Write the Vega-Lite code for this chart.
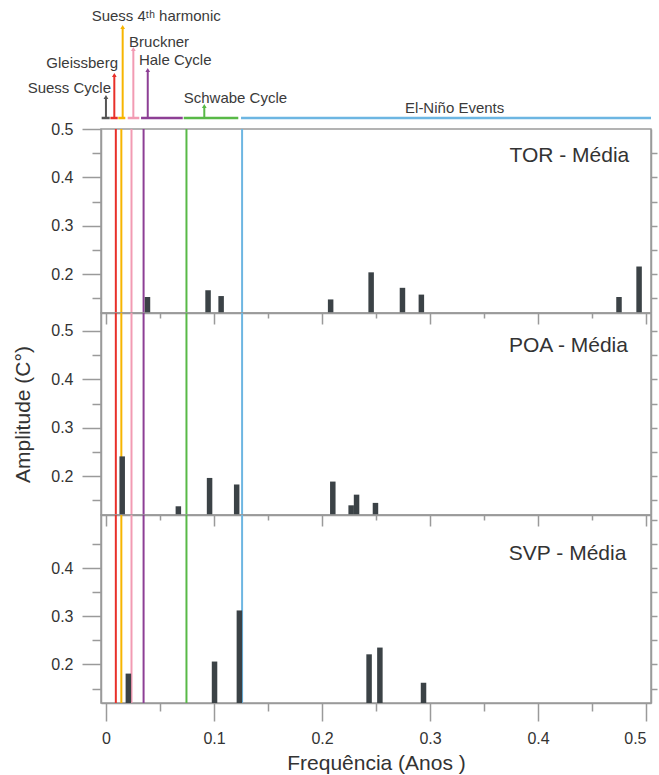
{
  "$schema": "https://vega.github.io/schema/vega-lite/v6.json",
  "autosize": {"type": "pad"},
  "padding": {"left": 12, "top": 5, "right": 0, "bottom": 0},
  "spacing": 0,
  "bounds": "flush",
  "background": "white",
  "config": {
    "font": "Liberation Sans",
    "view": {"stroke": "#9a9a9a", "strokeWidth": 1.5},
    "axis": {
      "grid": false,
      "domainColor": "#9a9a9a",
      "domainWidth": 1.5,
      "tickColor": "#9a9a9a",
      "tickWidth": 1.5,
      "labelColor": "#333333",
      "labelFontSize": 16,
      "labelFont": "Liberation Sans",
      "titleFont": "Liberation Sans",
      "titleColor": "#333333",
      "titleFontWeight": "normal",
      "titleFontSize": 21
    }
  },
  "datasets": {
    "bars": [
      {"panel": "TOR", "freq": 0.0384, "amp": 0.153},
      {"panel": "TOR", "freq": 0.0945, "amp": 0.167},
      {"panel": "TOR", "freq": 0.1066, "amp": 0.155},
      {"panel": "TOR", "freq": 0.208, "amp": 0.148},
      {"panel": "TOR", "freq": 0.2455, "amp": 0.204},
      {"panel": "TOR", "freq": 0.2745, "amp": 0.172},
      {"panel": "TOR", "freq": 0.292, "amp": 0.158},
      {"panel": "TOR", "freq": 0.475, "amp": 0.153},
      {"panel": "TOR", "freq": 0.4936, "amp": 0.216},
      {"panel": "POA", "freq": 0.015, "amp": 0.241},
      {"panel": "POA", "freq": 0.067, "amp": 0.138},
      {"panel": "POA", "freq": 0.0959, "amp": 0.1965},
      {"panel": "POA", "freq": 0.121, "amp": 0.183},
      {"panel": "POA", "freq": 0.21, "amp": 0.189},
      {"panel": "POA", "freq": 0.227, "amp": 0.14},
      {"panel": "POA", "freq": 0.232, "amp": 0.162},
      {"panel": "POA", "freq": 0.2495, "amp": 0.145},
      {"panel": "SVP", "freq": 0.0207, "amp": 0.181},
      {"panel": "SVP", "freq": 0.1005, "amp": 0.206},
      {"panel": "SVP", "freq": 0.1235, "amp": 0.312},
      {"panel": "SVP", "freq": 0.2436, "amp": 0.221},
      {"panel": "SVP", "freq": 0.2536, "amp": 0.235},
      {"panel": "SVP", "freq": 0.294, "amp": 0.162}
    ],
    "lines": [
      {"cycle": "Gleissberg", "freq": 0.0091},
      {"cycle": "Suess 4th harmonic", "freq": 0.0142},
      {"cycle": "Bruckner", "freq": 0.0236},
      {"cycle": "Hale Cycle", "freq": 0.0348},
      {"cycle": "Schwabe Cycle", "freq": 0.0745},
      {"cycle": "El-Niño Events", "freq": 0.126}
    ],
    "stems": [
      {"cycle": "Suess Cycle", "freq": 0.0045, "top": 32},
      {"cycle": "Gleissberg", "freq": 0.0121, "top": 54},
      {"cycle": "Suess 4th harmonic", "freq": 0.0197, "top": 102},
      {"cycle": "Bruckner", "freq": 0.0294, "top": 80},
      {"cycle": "Hale Cycle", "freq": 0.0425, "top": 59},
      {"cycle": "Schwabe Cycle", "freq": 0.0939, "top": 23}
    ],
    "segments": [
      {"cycle": "Suess Cycle", "start": 0.0006, "end": 0.0079},
      {"cycle": "Gleissberg", "start": 0.0085, "end": 0.0152},
      {"cycle": "Suess 4th harmonic", "start": 0.0157, "end": 0.0221},
      {"cycle": "Bruckner", "start": 0.0243, "end": 0.0348},
      {"cycle": "Hale Cycle", "start": 0.0364, "end": 0.0743},
      {"cycle": "Schwabe Cycle", "start": 0.0752, "end": 0.1248},
      {"cycle": "El-Niño Events", "start": 0.1273, "end": 0.5}
    ],
    "labels": [
      {"label": "Suess Cycle", "side": "right", "freq": 0.0091, "level": 41},
      {"label": "Gleissberg", "side": "right", "freq": 0.0155, "level": 66},
      {"label": "Suess 4ᵗʰ harmonic", "side": "left", "freq": -0.0085, "level": 113},
      {"label": "Bruckner", "side": "left", "freq": 0.0255, "level": 87},
      {"label": "Hale Cycle", "side": "left", "freq": 0.0345, "level": 69},
      {"label": "Schwabe Cycle", "side": "left", "freq": 0.0752, "level": 31.3},
      {"label": "El-Niño Events", "side": "left", "freq": 0.2764, "level": 21.3}
    ]
  },
  "vconcat": [
    {
      "width": 550,
      "height": 124,
      "view": {"stroke": null},
      "layer": [
        {
          "data": {"name": "segments"},
          "mark": {"type": "rule", "strokeWidth": 2.5},
          "encoding": {
            "x": {"field": "start", "type": "quantitative", "scale": {"domain": [0, 0.5], "nice": false}, "axis": null},
            "x2": {"field": "end"},
            "y": {"datum": 11, "type": "quantitative", "scale": {"domain": [0, 124], "nice": false, "zero": true}, "axis": null},
            "color": {"field": "cycle", "type": "nominal", "legend": null,
              "scale": {"domain": ["Suess Cycle", "Gleissberg", "Suess 4th harmonic", "Bruckner", "Hale Cycle", "Schwabe Cycle", "El-Niño Events"],
                        "range": ["#555555", "#e8302a", "#f7b500", "#f29bb3", "#8d3f95", "#58b947", "#6db6e2"]}}
          }
        },
        {
          "data": {"name": "stems"},
          "mark": {"type": "rule", "strokeWidth": 2},
          "encoding": {
            "x": {"field": "freq", "type": "quantitative"},
            "y": {"field": "top", "type": "quantitative"},
            "y2": {"datum": 11},
            "color": {"field": "cycle", "type": "nominal", "legend": null}
          }
        },
        {
          "data": {"name": "stems"},
          "mark": {"type": "point", "shape": "triangle-up", "filled": true, "size": 22, "opacity": 1},
          "encoding": {
            "x": {"field": "freq", "type": "quantitative"},
            "y": {"field": "top", "type": "quantitative"},
            "color": {"field": "cycle", "type": "nominal", "legend": null}
          }
        },
        {
          "data": {"name": "labels"},
          "transform": [{"filter": "datum.side === 'right'"}],
          "mark": {"type": "text", "align": "right", "baseline": "middle", "fontSize": 15, "color": "#3a3a3a"},
          "encoding": {
            "x": {"field": "freq", "type": "quantitative"},
            "y": {"field": "level", "type": "quantitative"},
            "text": {"field": "label"}
          }
        },
        {
          "data": {"name": "labels"},
          "transform": [{"filter": "datum.side === 'left'"}],
          "mark": {"type": "text", "align": "left", "baseline": "middle", "fontSize": 15, "color": "#3a3a3a"},
          "encoding": {
            "x": {"field": "freq", "type": "quantitative"},
            "y": {"field": "level", "type": "quantitative"},
            "text": {"field": "label"}
          }
        }
      ]
    },
    {
      "width": 550,
      "height": 184,
      "resolve": {"axis": {"y": "independent"}},
      "layer": [
        {
          "data": {"name": "lines"},
          "mark": {"type": "rule", "strokeWidth": 2},
          "encoding": {
            "x": {"field": "freq", "type": "quantitative", "scale": {"domain": [0, 0.5], "nice": false},
              "axis": {"values": [0, 0.05, 0.1, 0.15, 0.2, 0.25, 0.3, 0.35, 0.4, 0.45, 0.5], "labels": false, "title": null,
                "tickSize": {"condition": {"test": "abs(datum.value*10-round(datum.value*10))<0.001", "value": 11}, "value": 5}}},
            "color": {"field": "cycle", "type": "nominal", "legend": null,
              "scale": {"domain": ["Suess Cycle", "Gleissberg", "Suess 4th harmonic", "Bruckner", "Hale Cycle", "Schwabe Cycle", "El-Niño Events"],
                        "range": ["#555555", "#e8302a", "#f7b500", "#f29bb3", "#8d3f95", "#58b947", "#6db6e2"]}}
          }
        },
        {
          "data": {"name": "bars"},
          "transform": [{"filter": "datum.panel === 'TOR'"}],
          "mark": {"type": "bar", "width": 5.5, "color": "#3b4246"},
          "encoding": {
            "x": {"field": "freq", "type": "quantitative"},
            "y": {"field": "amp", "type": "quantitative", "scale": {"domain": [0.12, 0.5], "nice": false, "zero": false},
              "axis": {"values": [0.15, 0.2, 0.25, 0.3, 0.35, 0.4, 0.45, 0.5], "title": null, "labelPadding": 9,
                "labelExpr": "abs(datum.value*10-round(datum.value*10))<0.001 ? format(datum.value, '.1f') : ''",
                "tickSize": {"condition": {"test": "abs(datum.value*10-round(datum.value*10))<0.001", "value": 19}, "value": 9}}},
            "y2": {"datum": 0.12}
          }
        },
        {
          "data": {"values": [{"label": "TOR - Média"}]},
          "mark": {"type": "text", "align": "right", "baseline": "middle", "fontSize": 21, "color": "#333333"},
          "encoding": {
            "x": {"datum": 0.4845, "type": "quantitative"},
            "y": {"datum": 0.444, "type": "quantitative",
              "axis": {"orient": "right", "values": [0.15, 0.2, 0.25, 0.3, 0.35, 0.4, 0.45], "labels": false, "title": null, "tickSize": 6}},
            "text": {"field": "label"}
          }
        }
      ]
    },
    {
      "width": 550,
      "height": 202,
      "resolve": {"axis": {"y": "independent"}},
      "layer": [
        {
          "data": {"name": "lines"},
          "mark": {"type": "rule", "strokeWidth": 2},
          "encoding": {
            "x": {"field": "freq", "type": "quantitative", "scale": {"domain": [0, 0.5], "nice": false},
              "axis": {"values": [0, 0.05, 0.1, 0.15, 0.2, 0.25, 0.3, 0.35, 0.4, 0.45, 0.5], "labels": false, "title": null,
                "tickSize": {"condition": {"test": "abs(datum.value*10-round(datum.value*10))<0.001", "value": 11}, "value": 5}}},
            "color": {"field": "cycle", "type": "nominal", "legend": null,
              "scale": {"domain": ["Suess Cycle", "Gleissberg", "Suess 4th harmonic", "Bruckner", "Hale Cycle", "Schwabe Cycle", "El-Niño Events"],
                        "range": ["#555555", "#e8302a", "#f7b500", "#f29bb3", "#8d3f95", "#58b947", "#6db6e2"]}}
          }
        },
        {
          "data": {"name": "bars"},
          "transform": [{"filter": "datum.panel === 'POA'"}],
          "mark": {"type": "bar", "width": 5.5, "color": "#3b4246"},
          "encoding": {
            "x": {"field": "freq", "type": "quantitative"},
            "y": {"field": "amp", "type": "quantitative", "scale": {"domain": [0.12, 0.537], "nice": false, "zero": false},
              "axis": {"values": [0.15, 0.2, 0.25, 0.3, 0.35, 0.4, 0.45, 0.5], "title": "Amplitude (C°)", "titlePadding": 17, "labelPadding": 9,
                "labelExpr": "abs(datum.value*10-round(datum.value*10))<0.001 ? format(datum.value, '.1f') : ''",
                "tickSize": {"condition": {"test": "abs(datum.value*10-round(datum.value*10))<0.001", "value": 19}, "value": 9}}},
            "y2": {"datum": 0.12}
          }
        },
        {
          "data": {"values": [{"label": "POA - Média"}]},
          "mark": {"type": "text", "align": "right", "baseline": "middle", "fontSize": 21, "color": "#333333"},
          "encoding": {
            "x": {"datum": 0.4833, "type": "quantitative"},
            "y": {"datum": 0.469, "type": "quantitative",
              "axis": {"orient": "right", "values": [0.15, 0.2, 0.25, 0.3, 0.35, 0.4, 0.45, 0.5], "labels": false, "title": null, "tickSize": 6}},
            "text": {"field": "label"}
          }
        }
      ]
    },
    {
      "width": 550,
      "height": 188,
      "resolve": {"axis": {"y": "independent"}},
      "layer": [
        {
          "data": {"name": "lines"},
          "mark": {"type": "rule", "strokeWidth": 2},
          "encoding": {
            "x": {"field": "freq", "type": "quantitative", "scale": {"domain": [0, 0.5], "nice": false},
              "axis": {"values": [0, 0.05, 0.1, 0.15, 0.2, 0.25, 0.3, 0.35, 0.4, 0.45, 0.5], "title": "Frequência (Anos )", "titlePadding": 6, "labelPadding": 9,
                "labelExpr": "abs(datum.value*10-round(datum.value*10))<0.001 ? (datum.value == 0 ? '0' : format(datum.value, '.1f')) : ''",
                "labelAlign": {"condition": {"test": "datum.value > 0.49", "value": "right"}, "value": "center"},
                "tickSize": {"condition": {"test": "abs(datum.value*10-round(datum.value*10))<0.001", "value": 18}, "value": 8}}},
            "color": {"field": "cycle", "type": "nominal", "legend": null,
              "scale": {"domain": ["Suess Cycle", "Gleissberg", "Suess 4th harmonic", "Bruckner", "Hale Cycle", "Schwabe Cycle", "El-Niño Events"],
                        "range": ["#555555", "#e8302a", "#f7b500", "#f29bb3", "#8d3f95", "#58b947", "#6db6e2"]}}
          }
        },
        {
          "data": {"name": "bars"},
          "transform": [{"filter": "datum.panel === 'SVP'"}],
          "mark": {"type": "bar", "width": 5.5, "color": "#3b4246"},
          "encoding": {
            "x": {"field": "freq", "type": "quantitative"},
            "y": {"field": "amp", "type": "quantitative", "scale": {"domain": [0.12, 0.51], "nice": false, "zero": false},
              "axis": {"values": [0.15, 0.2, 0.25, 0.3, 0.35, 0.4, 0.45], "title": null, "labelPadding": 9,
                "labelExpr": "abs(datum.value*10-round(datum.value*10))<0.001 ? format(datum.value, '.1f') : ''",
                "tickSize": {"condition": {"test": "abs(datum.value*10-round(datum.value*10))<0.001", "value": 19}, "value": 9}}},
            "y2": {"datum": 0.12}
          }
        },
        {
          "data": {"values": [{"label": "SVP - Média"}]},
          "mark": {"type": "text", "align": "right", "baseline": "middle", "fontSize": 21, "color": "#333333"},
          "encoding": {
            "x": {"datum": 0.4818, "type": "quantitative"},
            "y": {"datum": 0.43, "type": "quantitative",
              "axis": {"orient": "right", "values": [0.15, 0.2, 0.25, 0.3, 0.35, 0.4, 0.45, 0.5], "labels": false, "title": null, "tickSize": 6}},
            "text": {"field": "label"}
          }
        }
      ]
    }
  ]
}
